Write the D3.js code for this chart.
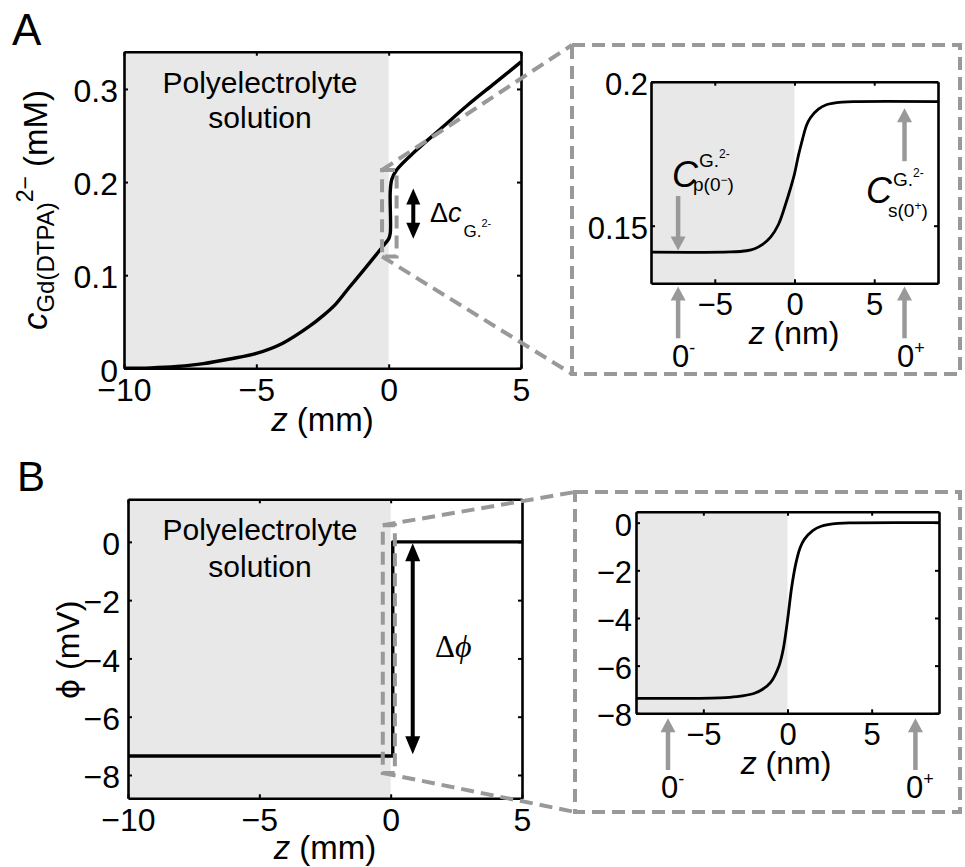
<!DOCTYPE html>
<html>
<head>
<meta charset="utf-8">
<script src="https://cdn.jsdelivr.net/npm/d3@7"></script>
<style>
  body { margin: 0; background: #fff; }
  svg text { font-family: "Liberation Sans", Arial, Helvetica, sans-serif; fill: #000; }
</style>
</head>
<body>
<svg id="fig" width="965" height="867"></svg>
<script>
// ---- data ----
// A: concentration profile across the interface (z in mm, c in mM)
const zA = [-10, -9, -8, -7, -6, -5, -4, -3, -2.5, -2, -1.5, -1, -0.5, -0.25, 0, 0.06, 0.06, 0.12, 0.3, 1, 2, 3, 4, 5];
const cA = [0, 0.0005, 0.002, 0.005, 0.010, 0.016, 0.027, 0.045, 0.056, 0.069, 0.0865, 0.1035, 0.121, 0.130, 0.139, 0.145, 0.19, 0.203, 0.213, 0.233, 0.258, 0.283, 0.306, 0.329];
// A inset: same quantity on the nm scale
const zInA = [-9, -4, -3, -2.5, -2, -1.5, -1, -0.5, -0.25, 0, 0.25, 0.5, 0.75, 1, 1.5, 2, 3, 4, 9];
const cInA = [0.1408, 0.1409, 0.1413, 0.1420, 0.1435, 0.1460, 0.1505, 0.1585, 0.1630, 0.1680, 0.1745, 0.1800, 0.1848, 0.1875, 0.1905, 0.1920, 0.1929, 0.1931, 0.1931];
// B: potential (mV)
const zB = [-10, 0.08, 0.08, 5];
const phiB = [-7.35, -7.35, 0, 0];
// B inset
const zInB = [-9, -4, -3, -2, -1.5, -1, -0.5, -0.25, 0, 0.25, 0.5, 0.75, 1, 1.5, 2, 3, 4, 9];
const phiInB = [-7.37, -7.35, -7.3, -7.17, -7.0, -6.7, -6.0, -5.3, -4.1, -2.7, -1.7, -1.05, -0.7, -0.33, -0.15, -0.03, -0.01, 0];

const ticksMainX = [-10, -5, 0, 5];
const ticksInsetX = [-5, 0, 5];
const ticksAY = [0, 0.1, 0.2, 0.3];
const ticksInAY = [0.15, 0.2];
const ticksBY = [-8, -6, -4, -2, 0];

// annotation anchors (data units)
const zoomRectA = {z: [-0.25, 0.3], v: [0.12, 0.213]};
const zoomRectB = {z: [-0.3, 0.16], v: [0.57, -7.93]};
const deltaA = {z: 0.93, v: [0.139, 0.193]};
const deltaB = {z: 0.84, v: [-0.05, -7.29]};
const markZA = [-7.3, 6.9];
const markZB = [-7.1, 7.6];

const GRAY = "#999";
const SHADE = "#e8e8e8";
const svg = d3.select("#fig");

const A  = {x: d3.scaleLinear([-10, 5], [124, 521]), y: d3.scaleLinear([0, 0.34], [368.3, 51.7])};
const Ai = {x: d3.scaleLinear([-9, 9], [651, 938]), y: d3.scaleLinear([0.13, 0.2], [283.3, 81.7])};
const B  = {x: d3.scaleLinear([-10, 5], [128, 522]), y: d3.scaleLinear([-8.8, 1.46], [798.3, 499.3])};
const Bi = {x: d3.scaleLinear([-9, 9], [636, 939]), y: d3.scaleLinear([-8, 0.46], [713.3, 511.7])};

function shade(p) {
  const [y0, y1] = p.y.range();
  svg.append("rect")
    .attr("x", p.x.range()[0]).attr("y", y1)
    .attr("width", p.x(0) - p.x.range()[0]).attr("height", y0 - y1)
    .attr("fill", SHADE);
}

function curve(p, xs, ys, w, smooth) {
  const line = d3.line().x(i => p.x(xs[i])).y(i => p.y(ys[i]))
    .curve(smooth ? d3.curveCatmullRom.alpha(0.5) : d3.curveLinear);
  svg.append("path").attr("d", line(d3.range(xs.length)))
    .attr("fill", "none").attr("stroke", "#000").attr("stroke-width", w)
    .attr("stroke-linejoin", "round");
}

function axes(p, xt, yt, ypad, fs) {
  const fmt = d3.format("");
  const [x0, x1] = p.x.range(), [yb, yt0] = p.y.range();
  const style = g => {
    g.select(".domain").attr("stroke", "#000").attr("stroke-width", 2.6);
    g.selectAll(".tick line").attr("stroke", "#000").attr("stroke-width", 2);
    g.selectAll("text").attr("font-size", fs).attr("fill", "#000");
  };
  svg.append("g").attr("transform", `translate(0,${yb})`)
    .call(d3.axisBottom(p.x).tickValues(xt).tickFormat(fmt).tickSize(-4).tickSizeOuter(0).tickPadding(10))
    .call(style);
  svg.append("g").attr("transform", `translate(0,${yt0})`)
    .call(d3.axisTop(p.x).tickValues(xt).tickFormat("").tickSize(-4).tickSizeOuter(0))
    .call(style);
  svg.append("g").attr("transform", `translate(${x0},0)`)
    .call(d3.axisLeft(p.y).tickValues(yt).tickFormat(fmt).tickSize(-4).tickSizeOuter(0).tickPadding(ypad))
    .call(style)
    .selectAll("text").attr("dy", "0.4em");
  svg.append("g").attr("transform", `translate(${x1},0)`)
    .call(d3.axisRight(p.y).tickValues(yt).tickFormat("").tickSize(-4).tickSizeOuter(0))
    .call(style);
}

function arrow(x1, y1, x2, y2, color, w, hl, hw, both) {
  const dx = x2 - x1, dy = y2 - y1, L = Math.hypot(dx, dy), ux = dx / L, uy = dy / L;
  const head = (tx, ty, sx, sy) => {
    const bx = tx - sx * hl, by = ty - sy * hl;
    return `M${tx},${ty}L${bx - sy * hw / 2},${by + sx * hw / 2}L${bx + sy * hw / 2},${by - sx * hw / 2}Z`;
  };
  const s0 = both ? hl * 0.9 : 0;
  svg.append("line")
    .attr("x1", x1 + ux * s0).attr("y1", y1 + uy * s0)
    .attr("x2", x2 - ux * hl * 0.9).attr("y2", y2 - uy * hl * 0.9)
    .attr("stroke", color).attr("stroke-width", w);
  svg.append("path").attr("d", head(x2, y2, ux, uy)).attr("fill", color);
  if (both) svg.append("path").attr("d", head(x1, y1, -ux, -uy)).attr("fill", color);
}

// rich text: parts = [text, size, {dy, dx, x, y, italic, family}]
function rich(x, y, parts, attrs = {}) {
  const t = svg.append("text").attr("x", x).attr("y", y);
  Object.entries(attrs).forEach(([k, v]) => t.attr(k, v));
  parts.forEach(([s, size, o = {}]) => {
    const ts = t.append("tspan").text(s).attr("font-size", size);
    ["dx", "dy", "x", "y"].forEach(k => { if (o[k] !== undefined) ts.attr(k, o[k]); });
    if (o.italic) ts.attr("font-style", "italic");
    if (o.family) ts.attr("font-family", o.family);
  });
  return t;
}

function dashed(sel) {
  return sel.attr("fill", "none").attr("stroke", GRAY).attr("stroke-width", 4).attr("stroke-dasharray", "13,7");
}

function sideText(x, y, s) {
  svg.append("text").attr("x", x).attr("y", y).attr("text-anchor", "middle")
    .attr("font-family", "Open Sans").attr("font-size", 30).text(s);
}

// ---------- panel A ----------
shade(A);
curve(A, zA, cA, 3.4, true);
axes(A, ticksMainX, ticksAY, 6, 32);

svg.append("text").attr("x", 12).attr("y", 45).text("A")
  .attr("font-family", "Open Sans").attr("font-size", 44);
sideText(260, 93, "Polyelectrolyte");
sideText(260, 128, "solution");

rich(322.5, 431, [["z", 33, {italic: true}], [" (mm)", 33]], {"text-anchor": "middle"});
rich(0, 0, [["c", 35, {italic: true}], ["Gd(DTPA)", 24, {dy: 7}], ["2−", 23, {dy: -21}], [" (mM)", 33, {dy: 14}]],
  {"text-anchor": "middle", transform: "translate(47,210) rotate(-90)"});

// inset A
shade(Ai);
curve(Ai, zInA, cInA, 2.8, true);
axes(Ai, ticksInsetX, ticksInAY, 3, 31);
rich(794, 344, [["z", 32, {italic: true}], [" (nm)", 32]], {"text-anchor": "middle"});

// zoom box and connectors A
const rA = {x0: A.x(zoomRectA.z[0]), x1: A.x(zoomRectA.z[1]), y0: A.y(zoomRectA.v[1]), y1: A.y(zoomRectA.v[0])};
const boxA = {x0: 572, y0: 45, x1: 960, y1: 374};
dashed(svg.append("rect")).attr("x", rA.x0).attr("y", rA.y0).attr("width", rA.x1 - rA.x0).attr("height", rA.y1 - rA.y0);
dashed(svg.append("line")).attr("x1", rA.x0).attr("y1", rA.y0).attr("x2", boxA.x0).attr("y2", boxA.y0);
dashed(svg.append("line")).attr("x1", rA.x0).attr("y1", rA.y1).attr("x2", boxA.x0).attr("y2", boxA.y1);
dashed(svg.append("rect")).attr("x", boxA.x0).attr("y", boxA.y0).attr("width", boxA.x1 - boxA.x0).attr("height", boxA.y1 - boxA.y0);

// delta c
arrow(A.x(deltaA.z), A.y(deltaA.v[0]), A.x(deltaA.z), A.y(deltaA.v[1]), "#000", 4, 16, 14, true);
rich(430, 222, [["Δ", 27], ["c", 27, {italic: true}], ["G.", 17, {dy: 15, dx: 2}], ["2-", 11, {dy: -10}]]);

// inset A markers
arrow(Ai.x(markZA[0]), Ai.y(0.1603), Ai.x(markZA[0]), Ai.y(0.1414), GRAY, 4.5, 14, 15);
arrow(Ai.x(markZA[1]), Ai.y(0.1724), Ai.x(markZA[1]), Ai.y(0.1908), GRAY, 4.5, 14, 15);
arrow(Ai.x(markZA[0]), Ai.y(0.1109), Ai.x(markZA[0]), Ai.y(0.1289), GRAY, 4.5, 14, 15);
arrow(Ai.x(markZA[1]), Ai.y(0.1109), Ai.x(markZA[1]), Ai.y(0.1289), GRAY, 4.5, 14, 15);
rich(672, 187, [["C", 36, {italic: true}], ["G.", 19, {dy: -20, dx: 1}], ["2-", 12, {dy: -9}],
  ["p(0", 19, {x: 693, y: 191}], ["−", 12, {dy: -7}], [")", 19, {dy: 7}]]);
rich(866, 203, [["C", 36, {italic: true}], ["G.", 19, {dy: -17, dx: 1}], ["2-", 12, {dy: -9}],
  ["s(0", 19, {x: 888, y: 217}], ["+", 12, {dy: -7}], [")", 19, {dy: 7}]]);
rich(672, 367, [["0", 31], ["-", 18, {dy: -13}]]);
rich(897, 367, [["0", 31], ["+", 18, {dy: -13}]]);

// ---------- panel B ----------
shade(B);
curve(B, zB, phiB, 3.4, false);
axes(B, ticksMainX, ticksBY, 8, 32);

svg.append("text").attr("x", 17).attr("y", 491).text("B")
  .attr("font-family", "Open Sans").attr("font-size", 42);
sideText(260, 540, "Polyelectrolyte");
sideText(260, 577, "solution");

rich(325, 859, [["z", 33, {italic: true}], [" (mm)", 33]], {"text-anchor": "middle"});
rich(0, 0, [["ϕ", 31, {family: "DejaVu Sans"}], [" (mV)", 32]],
  {"text-anchor": "middle", transform: "translate(79,650) rotate(-90)"});

// inset B
shade(Bi);
curve(Bi, zInB, phiInB, 2.8, true);
axes(Bi, ticksInsetX, ticksBY, 4, 31);
rich(786, 774, [["z", 32, {italic: true}], [" (nm)", 32]], {"text-anchor": "middle"});

const rB = {x0: B.x(zoomRectB.z[0]), x1: B.x(zoomRectB.z[1]), y0: B.y(zoomRectB.v[0]), y1: B.y(zoomRectB.v[1])};
const boxB = {x0: 575, y0: 492, x1: 960, y1: 812};
dashed(svg.append("rect")).attr("x", rB.x0).attr("y", rB.y0).attr("width", rB.x1 - rB.x0).attr("height", rB.y1 - rB.y0);
dashed(svg.append("line")).attr("x1", rB.x0).attr("y1", rB.y0).attr("x2", boxB.x0).attr("y2", boxB.y0);
dashed(svg.append("line")).attr("x1", rB.x0).attr("y1", rB.y1).attr("x2", boxB.x0).attr("y2", boxB.y1);
dashed(svg.append("rect")).attr("x", boxB.x0).attr("y", boxB.y0).attr("width", boxB.x1 - boxB.x0).attr("height", boxB.y1 - boxB.y0);

arrow(B.x(deltaB.z), B.y(deltaB.v[0]), B.x(deltaB.z), B.y(deltaB.v[1]), "#000", 4, 18, 15, true);
rich(435, 657, [["Δ", 31, {family: "Liberation Serif"}], ["ϕ", 32, {family: "Liberation Serif", italic: true}]]);

arrow(Bi.x(markZB[0]), Bi.y(-10.38), Bi.x(markZB[0]), Bi.y(-8.21), GRAY, 4.5, 14, 15);
arrow(Bi.x(markZB[1]), Bi.y(-10.38), Bi.x(markZB[1]), Bi.y(-8.21), GRAY, 4.5, 14, 15);
rich(661, 798, [["0", 31], ["-", 18, {dy: -13}]]);
rich(906, 798, [["0", 31], ["+", 18, {dy: -13}]]);
</script>
</body>
</html>
